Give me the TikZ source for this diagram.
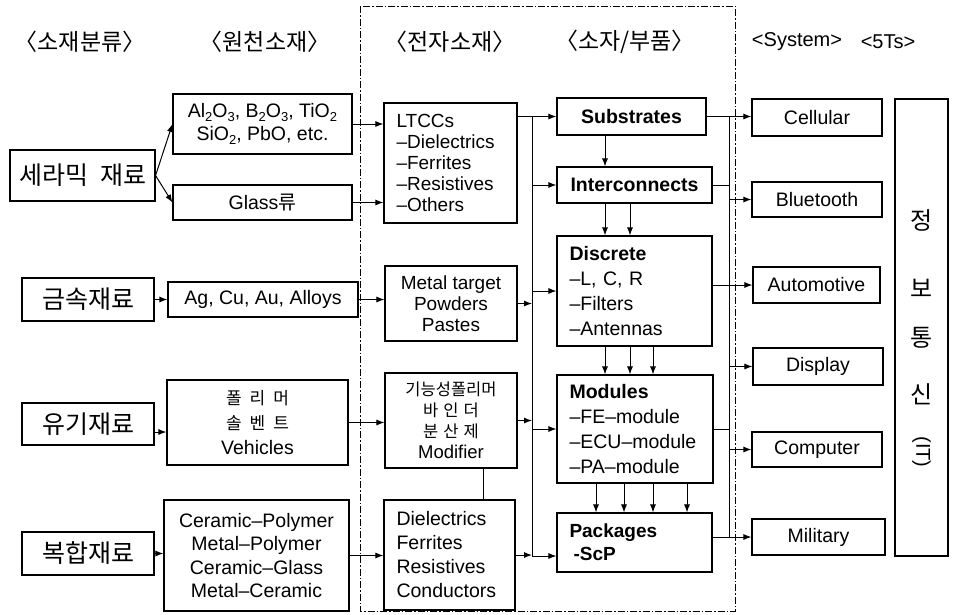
\documentclass[tikz,border=0pt]{standalone}
\usepackage{fontspec}
\setmainfont{Liberation Sans}
\newfontfamily\kr{Noto Sans CJK KR}
\usetikzlibrary{arrows.meta,calc}
\newcommand{\sbs}[1]{\raisebox{-4pt}{\fontsize{13}{13}\selectfont #1}}
\begin{document}
\begin{tikzpicture}[x=1pt,y=-1pt,
  box/.style={draw, line width=1.1pt, inner sep=0pt, align=center, font=\fontsize{19.5}{23}\selectfont},
  lbox/.style={box, align=left, inner xsep=12.5pt},
  cat/.style={box, font=\kr\fontsize{25}{28}\selectfont},
  hdr/.style={font=\kr\fontsize{23}{26}\selectfont},
  hdrl/.style={font=\fontsize{20}{24}\selectfont},
  vt/.style={font=\kr\fontsize{24}{28}\selectfont},
  arr/.style={-{Latex[length=8pt,width=6pt]}, line width=1pt},
  ln/.style={line width=1pt},
  frame/.style={line width=0.9pt, dash pattern=on 7pt off 2pt on 1.5pt off 2pt}
]
\fill[white] (0,0) rectangle (960,614);
\useasboundingbox (0,0) rectangle (960,614);

% headers
\node[hdr] (h1) at (80,42) {〈소재분류〉};
\node[hdr] (h2) at (265,42) {〈원천소재〉};
\node[hdr] (h3) at (450,42) {〈전자소재〉};
\node[hdr] (h4) at (625,42) {〈소자/부품〉};
\node[hdrl] (h5) at (797,42) {<System>};
\node[hdrl] (h6) at (888,42) {<5Ts>};

% dashed frame
\draw[frame] (360,6) rectangle (735,611);

% column 1
\node[cat, minimum width=145pt, minimum height=51pt] (cer) at (82.5,175.5) {세라믹\hspace{12pt}재료};
\node[cat, minimum width=132pt, minimum height=43pt] (metal) at (88,299.5) {금속재료};
\node[cat, minimum width=132pt, minimum height=42pt] (organic) at (88,424) {유기재료};
\node[cat, minimum width=132pt, minimum height=43pt] (cmpmat) at (88,553.5) {복합재료};

% column 2
\node[box, minimum width=179pt, minimum height=60pt] (al) at (262.5,124)
  {Al\sbs{2}O\sbs{3}, B\sbs{2}O\sbs{3}, TiO\sbs{2}\\SiO\sbs{2}, PbO, etc.};
\node[box, minimum width=179pt, minimum height=35pt] (glass) at (262.5,202.5) {Glass{\kr 류}};
\node[box, minimum width=190pt, minimum height=35pt] (ag) at (263,299.5) {Ag, Cu, Au, Alloys};
\node[box, minimum width=181pt, minimum height=85pt, font=\fontsize{19.5}{25}\selectfont] (poly) at (257.5,422.5)
  {{\kr\fontsize{17}{17}\selectfont 폴\hspace{8pt}리\hspace{8pt}머}\\{\kr\fontsize{17}{17}\selectfont 솔\hspace{8pt}벤\hspace{8pt}트}\\Vehicles};
\node[box, minimum width=185pt, minimum height=111pt, font=\fontsize{19.5}{23.5}\selectfont] (cp) at (256.5,555.5)
  {Ceramic–Polymer\\Metal–Polymer\\Ceramic–Glass\\Metal–Ceramic};

% column 3
\node[lbox, text width=108pt, minimum height=120pt, font=\fontsize{19}{21}\selectfont] (ltcc) at (450.5,163)
  {LTCCs\\–Dielectrics\\–Ferrites\\–Resistives\\–Others};
\node[box, minimum width=132pt, minimum height=75pt, font=\fontsize{19}{21}\selectfont] (mt) at (451,303.5)
  {Metal target\\Powders\\Pastes};
\node[box, minimum width=132pt, minimum height=95pt, font=\kr\fontsize{16.5}{21}\selectfont] (fp) at (451,420.5)
  {기능성폴리머\\바\hspace{5pt}인\hspace{5pt}더\\분\hspace{5pt}산\hspace{5pt}제\\{\rmfamily\fontsize{18.5}{21}\selectfont Modifier}};
\node[lbox, text width=106pt, minimum height=110pt, font=\fontsize{19.5}{24}\selectfont] (de) at (449.5,555)
  {Dielectrics\\Ferrites\\Resistives\\Conductors};

% column 4
\node[box, minimum width=149pt, minimum height=37pt, font=\bfseries\fontsize{19.5}{23}\selectfont] (sub) at (631.5,116.5) {Substrates};
\node[box, minimum width=155pt, minimum height=36pt, font=\bfseries\fontsize{19.5}{23}\selectfont] (inter) at (634.5,185) {Interconnects};
\node[lbox, text width=130pt, minimum height=110pt, font=\fontsize{19.5}{25}\selectfont] (disc) at (634.5,291)
  {\textbf{Discrete}\\–L, C, R\\–Filters\\–Antennas};
\node[lbox, text width=131pt, minimum height=108pt, font=\fontsize{19.5}{25}\selectfont] (mod) at (635,429)
  {\textbf{Modules}\\–FE–module\\–ECU–module\\–PA–module};
\node[lbox, text width=130pt, minimum height=59pt, font=\bfseries\fontsize{19}{23}\selectfont] (pkg) at (634.5,542.5)
  {Packages\\\hspace{4pt}-ScP};

% column 5
\node[box, minimum width=130pt, minimum height=37pt] (cell) at (817,117.5) {Cellular};
\node[box, minimum width=130pt, minimum height=35pt] (blue) at (817,199.5) {Bluetooth};
\node[box, minimum width=127pt, minimum height=36pt] (auto) at (816.5,285) {Automotive};
\node[box, minimum width=130pt, minimum height=37pt] (disp) at (818,366.5) {Display};
\node[box, minimum width=130pt, minimum height=35pt] (computer) at (817,449.5) {Computer};
\node[box, minimum width=133pt, minimum height=36pt] (mil) at (818.5,537) {Military};

% column 6
\node[box, minimum width=53pt, minimum height=457pt] (ts) at (921.5,327.5) {};
\node[vt] (t1) at (921.5,220) {정};
\node[vt] (t2) at (921.5,288) {보};
\node[vt] (t3) at (921.5,338) {통};
\node[vt] (t4) at (921.5,394) {신};
\node[hdrl, rotate=-90] (t5) at (921.5,452) {(IT)};

% connectors col1 -> col2
\draw[arr] (cer.east) -- (al.west);
\draw[arr] (cer.east) -- (glass.west);
\draw[arr] (metal.east) -- (ag.west);
\coordinate (oa) at ($(organic.east)+(0,8)$);
\draw[arr] (oa) -- (oa -| poly.west);
\draw[arr] (cmpmat.east) -- (cmpmat.east -| cp.west);

% col2 -> col3
\draw[arr] (al.east) -- (al.east -| ltcc.west);
\draw[arr] (glass.east) -- (glass.east -| ltcc.west);
\draw[arr] (ag.east) -- (ag.east -| mt.west);
\draw[arr] (poly.east) -- (poly.east -| fp.west);
\draw[arr] (cp.east) -- (cp.east -| de.west);
\coordinate (fx) at (483,0);
\draw[ln] (fx |- fp.south) -- (fx |- de.north);

% left bus
\coordinate (bl) at (532,0);
\coordinate (pk) at (0,556);
\draw[arr] (ltcc.east |- sub.west) -- (sub.west);
\draw[ln] (bl |- sub.west) -- (bl |- pk);
\draw[arr] (bl |- inter.west) -- (inter.west);
\draw[arr] (bl |- disc.west) -- (disc.west);
\draw[arr] (bl |- mod.west) -- (mod.west);
\draw[arr] (bl |- pk) -- (pkg.west |- pk);
\draw[arr] (mt.east) -- (mt.east -| bl);
\draw[arr] (fp.east) -- (fp.east -| bl);
\draw[arr] (de.east) -- (de.east -| bl);

% vertical arrows in col4
\coordinate (v0) at (605,0);
\draw[arr] (v0 |- sub.south) -- (v0 |- inter.north);
\foreach \x in {605,630} {\coordinate (t) at (\x,0); \draw[arr] (t |- inter.south) -- (t |- disc.north);}
\foreach \x in {605,630,653} {\coordinate (t) at (\x,0); \draw[arr] (t |- disc.south) -- (t |- mod.north);}
\foreach \x in {596,624,653,687} {\coordinate (t) at (\x,0); \draw[arr] (t |- mod.south) -- (t |- pkg.north);}

% right bus
\coordinate (br) at (729,0);
\draw[arr] (sub.east) -- (sub.east -| cell.west);
\draw[ln] (br |- sub.east) -- (br |- mil.west);
\draw[ln] (inter.east) -- (inter.east -| br);
\draw[arr] (br |- blue.west) -- (blue.west);
\draw[arr] (disc.east |- auto.west) -- (auto.west);
\draw[arr] (br |- disp.west) -- (disp.west);
\draw[ln] (mod.east) -- (mod.east -| br);
\draw[arr] (br |- computer.west) -- (computer.west);
\draw[arr] (pkg.east |- mil.west) -- (mil.west);
\end{tikzpicture}
\end{document}
